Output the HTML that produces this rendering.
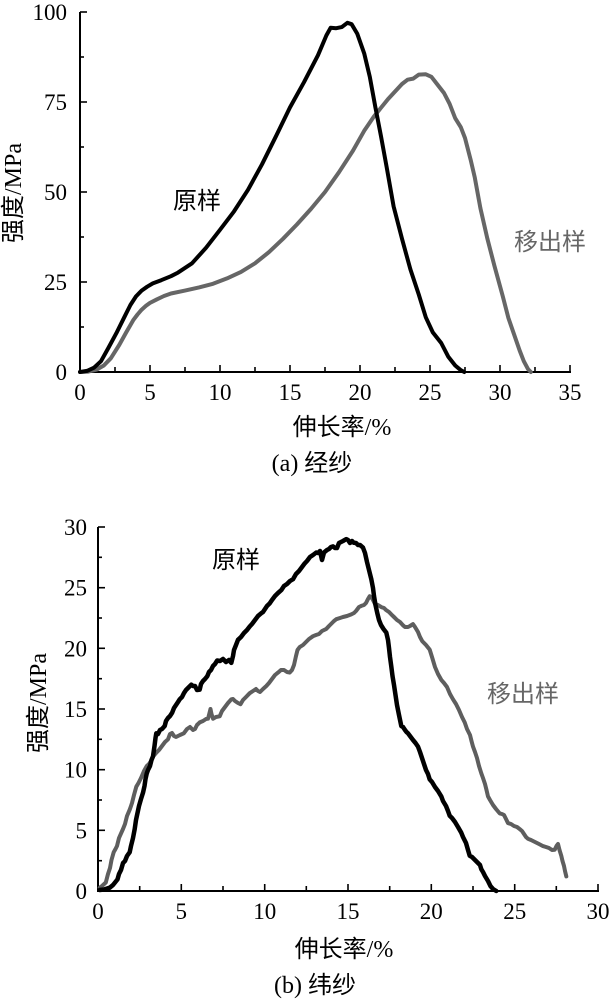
<!DOCTYPE html>
<html><head><meta charset="utf-8"><style>
html,body{margin:0;padding:0;background:#fff;}
svg{display:block;}
</style></head><body>
<svg width="613" height="1000" viewBox="0 0 613 1000" xmlns="http://www.w3.org/2000/svg">
<rect width="613" height="1000" fill="#fff"/>

<!-- ===== TOP CHART ===== -->
<g stroke="#000" stroke-width="2" fill="none">
<line x1="80" y1="12" x2="80" y2="373"/>
<line x1="79" y1="372" x2="571" y2="372"/>
</g>
<g stroke="#000" stroke-width="1.6">
<line x1="115" y1="372" x2="115" y2="367"/>
<line x1="150" y1="372" x2="150" y2="365"/>
<line x1="185" y1="372" x2="185" y2="367"/>
<line x1="220" y1="372" x2="220" y2="365"/>
<line x1="255" y1="372" x2="255" y2="367"/>
<line x1="290" y1="372" x2="290" y2="365"/>
<line x1="325" y1="372" x2="325" y2="367"/>
<line x1="360" y1="372" x2="360" y2="365"/>
<line x1="395" y1="372" x2="395" y2="367"/>
<line x1="430" y1="372" x2="430" y2="365"/>
<line x1="465" y1="372" x2="465" y2="367"/>
<line x1="500" y1="372" x2="500" y2="365"/>
<line x1="535" y1="372" x2="535" y2="367"/>
<line x1="570" y1="372" x2="570" y2="365"/>
<line x1="80" y1="12" x2="87" y2="12"/>
<line x1="80" y1="57" x2="84" y2="57"/>
<line x1="80" y1="102" x2="87" y2="102"/>
<line x1="80" y1="147" x2="84" y2="147"/>
<line x1="80" y1="192" x2="87" y2="192"/>
<line x1="80" y1="237" x2="84" y2="237"/>
<line x1="80" y1="282" x2="87" y2="282"/>
<line x1="80" y1="327" x2="84" y2="327"/>
</g>
<g font-family="'Liberation Serif', serif" font-size="23" fill="#000">
<g text-anchor="end">
<text x="67" y="20">100</text>
<text x="67" y="110">75</text>
<text x="67" y="200">50</text>
<text x="67" y="290">25</text>
<text x="67" y="380">0</text>
</g>
<g text-anchor="middle">
<text x="80" y="400">0</text>
<text x="150" y="400">5</text>
<text x="220" y="400">10</text>
<text x="290" y="400">15</text>
<text x="360" y="400">20</text>
<text x="430" y="400">25</text>
<text x="500" y="400">30</text>
<text x="570" y="400">35</text>
</g>
</g>
<g font-family="'Liberation Serif', 'Noto Sans CJK SC', sans-serif" font-size="24" fill="#000">
<text x="342" y="435" text-anchor="middle">伸长率/%</text>
<text x="312" y="471" text-anchor="middle">(a) 经纱</text>
<text transform="translate(21,193) rotate(-90)" text-anchor="middle">强度/MPa</text>
</g>
<g font-family="'Noto Sans CJK SC', sans-serif" font-size="24">
<text x="197" y="209" text-anchor="middle" fill="#000">原样</text>
<text x="550" y="250" text-anchor="middle" fill="#666">移出样</text>
</g>
<polyline fill="none" stroke="#666" stroke-width="4" stroke-linejoin="round" stroke-linecap="round" points="80,372 88.4,371.6 96.8,369.5 103.8,365.5 110.8,358.3 119.2,345 126.2,332.4 133.2,320.2 137.5,314.5 141.6,309.7 146,305.8 150,302.9 157,299.3 164,296 171,293.5 185,290.6 199,287.4 213,283.8 227,278.4 241,271.9 255,263.3 269,252.1 283,238.8 297,224.4 311,208.9 325,192 339,172.2 353,150.6 364.2,130.8 374,116.4 388,99.1 402,84 407.6,79.7 413.2,78.6 418.8,74.6 425.8,74.3 431.4,76.8 437,84 444,93 449.6,103.8 455.2,118.2 460.8,127.2 465,138 470.6,159.6 474.8,177.6 480.4,208.2 487.4,238.8 494.4,265.8 502.8,296.4 508.4,318 514,334.2 519.6,350.4 523.8,361.2 528,369.1 530.8,372"/>
<polyline fill="none" stroke="#000" stroke-width="4" stroke-linejoin="round" stroke-linecap="round" points="80,372 87,370.9 94,367.7 101,361.2 108,348.6 116.4,333.1 124.8,316.2 130.4,305 136,296.4 141.6,290.6 147.2,286.7 152.8,283.4 161.2,280.2 171,276.2 178,272.6 192,263.3 206,247.8 220,229.8 234,211.4 248,189.8 262,164.3 276,136.2 290,107.4 304,82.2 318,55.2 326.4,35.4 330.6,27.8 336.2,28.2 341.8,27.1 347.4,22.8 351.6,24.2 357.2,33.6 364.2,53.4 369.8,76.8 375.4,107.4 381,136.2 386.6,166.8 393.6,206.4 402,238.8 410.4,269.4 418.8,294.6 425.8,317.3 432.8,332.4 441.2,343 448.2,356.6 455.2,365.5 460.8,370.2 464.3,372"/>

<!-- ===== BOTTOM CHART ===== -->
<g stroke="#000" stroke-width="2" fill="none">
<line x1="98" y1="527" x2="98" y2="892"/>
<line x1="97" y1="891" x2="599" y2="891"/>
</g>
<g stroke="#000" stroke-width="1.6">
<line x1="139.7" y1="891" x2="139.7" y2="886"/>
<line x1="181.3" y1="891" x2="181.3" y2="884"/>
<line x1="223" y1="891" x2="223" y2="886"/>
<line x1="264.7" y1="891" x2="264.7" y2="884"/>
<line x1="306.3" y1="891" x2="306.3" y2="886"/>
<line x1="348" y1="891" x2="348" y2="884"/>
<line x1="389.7" y1="891" x2="389.7" y2="886"/>
<line x1="431.3" y1="891" x2="431.3" y2="884"/>
<line x1="473" y1="891" x2="473" y2="886"/>
<line x1="514.7" y1="891" x2="514.7" y2="884"/>
<line x1="556.3" y1="891" x2="556.3" y2="886"/>
<line x1="598" y1="891" x2="598" y2="884"/>
<line x1="98" y1="527" x2="105" y2="527"/>
<line x1="98" y1="557.3" x2="102" y2="557.3"/>
<line x1="98" y1="587.7" x2="105" y2="587.7"/>
<line x1="98" y1="618" x2="102" y2="618"/>
<line x1="98" y1="648.3" x2="105" y2="648.3"/>
<line x1="98" y1="678.7" x2="102" y2="678.7"/>
<line x1="98" y1="709" x2="105" y2="709"/>
<line x1="98" y1="739.3" x2="102" y2="739.3"/>
<line x1="98" y1="769.7" x2="105" y2="769.7"/>
<line x1="98" y1="800" x2="102" y2="800"/>
<line x1="98" y1="830.3" x2="105" y2="830.3"/>
<line x1="98" y1="860.7" x2="102" y2="860.7"/>
</g>
<g font-family="'Liberation Serif', serif" font-size="23" fill="#000">
<g text-anchor="end">
<text x="87" y="535">30</text>
<text x="87" y="595.7">25</text>
<text x="87" y="656.3">20</text>
<text x="87" y="717">15</text>
<text x="87" y="777.7">10</text>
<text x="87" y="838.3">5</text>
<text x="87" y="899">0</text>
</g>
<g text-anchor="middle">
<text x="98" y="919">0</text>
<text x="181.3" y="919">5</text>
<text x="264.7" y="919">10</text>
<text x="348" y="919">15</text>
<text x="431.3" y="919">20</text>
<text x="514.7" y="919">25</text>
<text x="598" y="919">30</text>
</g>
</g>
<g font-family="'Liberation Serif', 'Noto Sans CJK SC', sans-serif" font-size="24" fill="#000">
<text x="344" y="957" text-anchor="middle">伸长率/%</text>
<text x="315" y="993" text-anchor="middle">(b) 纬纱</text>
<text transform="translate(46,703) rotate(-90)" text-anchor="middle">强度/MPa</text>
</g>
<g font-family="'Noto Sans CJK SC', sans-serif" font-size="24">
<text x="236" y="568" text-anchor="middle" fill="#000">原样</text>
<text x="523" y="702" text-anchor="middle" fill="#666">移出样</text>
</g>
<polyline fill="none" stroke="#5e5e5e" stroke-width="4" stroke-linejoin="round" stroke-linecap="round" points="99.7,887.7 102,886 105.8,882.5 108,874 110,868 111.5,860 113.7,852.2 115.5,849 117,846 119,838 121.3,832.8 123,829 125,824 127,816 129.7,809.7 131,806 132,803 134,795 136.3,786.7 138.5,783 141,778 144,771 146.8,766 149,764 151,761 153.5,756 156.3,752.7 159,750 162,746 165,742 168,739.3 170,734 172,733 174,736 176,737 180,735 183.8,733.3 187,729 190,727 193,730 195,729 197,725 199.7,722.4 203,721 206,719 208,718.7 209.5,713 210.5,709 211.5,714 213,718.7 216,717 219.7,716.3 222,711 225,707 228,703 231.3,699.3 233,699 235,701 238,703 240.5,704.2 243,700 246,697 249.7,693.2 253,691 256,689 258,691 260,692 263,689 266.3,686 269,683 272,679 275,675 278,672.6 281,670 284,670 287,672 289.7,672.6 292,670 294,665 296,656 297.5,650 299.7,647.1 303,645 306,642 309,639 313,636.2 316,635 319,634 322,631 326.3,628.9 329,626 331,624 334,621 336.3,619.2 340,618 343,617 347,616 351.3,614.4 354,613 356,611 359,607 361.3,605.9 364,605 366,603 368,599 369.7,596.2 372,598 375,604 378,605 381.3,607.1 384,608 386,610 389,612 391.3,614.4 394,617 397,620 400,622 403,625.3 405,627 408,627 410,626 413,624.1 415,627 418,632 420,637 422.2,641.1 426,645 429.7,649.6 432,657 435,667 438,674 441.3,679.9 444,683 447,687 450,694 453,699.3 456,704 459,710 462,717 464.7,722.4 467,729 470,735 471.5,741 473,746.6 475,752 477,758 479,766 481.3,773.3 483,778 485,784 486.5,790 488,796.4 490,800 493,805 496,809 499.7,813.4 502,814 504,815 506,819 508,823.1 511,824 514,826 517,827 519.7,829.1 522,831 524,834 526,837 528,838.8 531,840 535,842 539,844 543,846.1 546,847 549,848 552,850 554.7,849.7 556.5,846 558,844 559.5,850 561.3,855.8 562.5,861 564,866 565,871 566.3,876.4"/>
<polyline fill="none" stroke="#000" stroke-width="4.5" stroke-linejoin="round" stroke-linecap="round" points="99.7,890 104,889.5 109.7,887.7 113,885 117.5,879.4 119,874 121,870 123,863.1 125,861 127,856 129.7,852.2 131,846 133,838 134.7,829.1 136,820 137.5,813 139,806 141,799 143,792.7 144.5,786 145.5,779 146.8,773.3 148,770 150,766 151.5,760 153,756.3 154.5,746 155.5,738 156.3,733.3 158,734 160,730 162,729 164.7,726 166,721 168,718 170,716 172.2,712.6 174,708 176,705 178,702 179.7,699.3 182,697 184,693 186,690 188,688 191.3,684.7 193,686 195,686 197,690 199.7,689.6 201,684 203,681 205,679 207.3,676.2 209,672 211,670 213,666 215,664 217.2,660.5 220,661 223,659 226,662 229,660 231.3,662.9 233,656 234,650 236,645 238,639.8 241,637 244,633 247,630 249.7,626.5 252,624 255,620 258,616 261.3,613.2 263,612 265,609 267,606 269.7,603.4 272,600 275,596 278,593 281.3,590.1 284,586 287,584 290,581 293,579.2 296,574 299,571 302,567 304.7,563.4 307,561 310,557 313,555 316.3,552.5 318,553 320,551 322,560 324,552.5 327,550 329,549 331,547 333,546.4 335,548 337,548 339,543 341,542 343,541 346.3,539.1 348,540 350,543 352,541 353.8,542.8 356,543 358,545 360,545 363,547.6 365,553 367,562 369,570 371.3,579.2 373,588 374,596 375.5,605 377.3,613.2 379,620 381,625 383.5,629 386.3,632.6 388,640 389,648 390,657 391.3,666.5 392.5,676 394,685 395.5,695 397,705 399,715 401.3,726 403,727 405,730 406.5,732 408,733.3 410,736 413,740 415.5,743 418,746.6 420,752 422,758 424,764 426,770 428,774 429.7,779.4 432,782 435,787 438,791 441.3,796.4 443,801 446,806 448,811 449.7,815.8 452,818 455,822 458,827 461.3,832.8 463,837 466,843 468,850 469.7,855.8 472,857 474,859 476,861 478,863 480,865 481.3,869.2 483,872 485,876 488,881 490.5,886.1 493,889 496.3,891"/>
</svg>
</body></html>
